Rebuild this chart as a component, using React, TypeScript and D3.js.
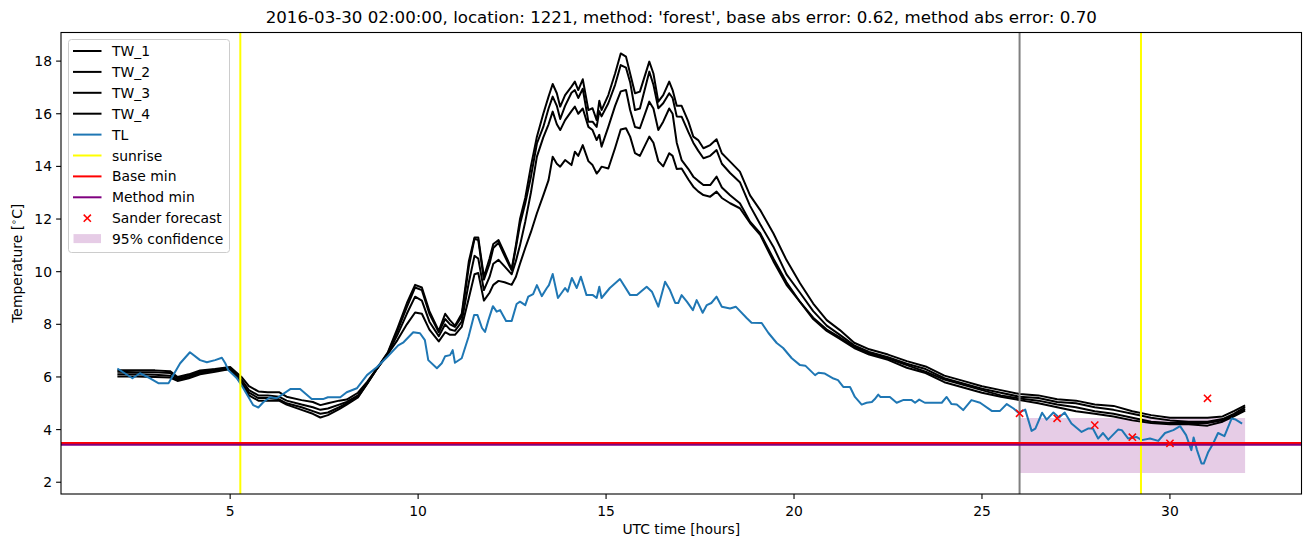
import React from 'react';
import * as d3 from 'd3';

const TW_HOURS = [2.0,2.5,3.0,3.4,3.6,3.9,4.2,4.6,5.0,5.3,5.5,5.75,6.0,6.3,6.5,6.9,7.2,7.4,7.6,7.9,8.1,8.4,8.65,8.9,9.2,9.45,9.7,9.92,10.1,10.3,10.55,10.72,10.85,10.98,11.16,11.35,11.5,11.6,11.75,11.9,12.0,12.14,12.3,12.49,12.6,12.71,12.85,13.0,13.16,13.33,13.47,13.58,13.69,13.78,13.91,14.08,14.17,14.26,14.38,14.53,14.64,14.75,14.82,14.88,15.06,15.24,15.39,15.53,15.64,15.77,15.9,16.15,16.26,16.39,16.52,16.68,16.77,16.88,17.01,17.19,17.32,17.45,17.59,17.77,17.94,18.08,18.3,18.56,18.83,19.1,19.45,19.8,20.16,20.51,20.87,21.22,21.6,22.0,22.5,23.0,23.5,24.0,24.5,25.0,25.5,26.0,26.5,27.0,27.5,28.0,28.5,29.0,29.5,30.0,30.5,31.0,31.4,31.7,32.0];

const TW_1 = [6.25,6.25,6.25,6.22,6.0,6.1,6.25,6.3,6.38,6.0,5.65,5.45,5.42,5.42,5.25,5.12,5.05,4.93,5.0,5.1,5.14,5.4,5.82,6.32,6.95,7.85,8.8,9.5,9.4,8.5,7.75,8.4,8.15,7.95,8.4,10.4,11.3,11.3,9.8,10.5,11.05,11.2,10.7,10.1,11.0,12.0,12.8,14.0,15.13,16.0,16.65,17.13,16.78,16.27,16.71,17.03,17.22,16.9,17.31,16.14,16.21,15.76,16.49,16.14,16.71,17.53,18.29,18.17,17.53,16.78,16.84,17.98,17.53,16.46,16.71,17.22,16.9,16.3,16.3,15.7,15.13,15.0,14.69,14.81,15.03,14.5,14.18,13.8,12.9,12.34,11.46,10.44,9.56,8.79,8.16,7.78,7.3,7.05,6.85,6.6,6.4,6.05,5.85,5.65,5.5,5.35,5.3,5.15,5.1,4.95,4.9,4.7,4.55,4.45,4.45,4.45,4.5,4.7,4.92];

const TW_2 = [6.2,6.18,6.18,6.15,5.95,6.05,6.2,6.28,6.35,5.9,5.5,5.3,5.3,5.25,5.1,4.95,4.85,4.75,4.8,4.95,5.05,5.3,5.78,6.3,6.92,7.75,8.65,9.4,9.3,8.4,7.7,8.2,8.0,7.9,8.3,10.2,11.25,11.2,9.7,10.3,10.9,11.1,10.6,10.05,10.9,11.8,12.6,13.6,14.87,15.5,16.2,16.65,16.3,15.8,16.3,16.8,16.9,16.6,16.95,15.7,15.7,15.5,16.1,15.9,16.4,17.1,17.85,17.75,17.2,16.14,16.2,17.6,17.1,16.21,16.4,16.78,16.6,15.9,15.89,15.3,14.9,14.6,14.31,14.4,14.62,14.1,13.75,13.4,12.5,11.8,10.95,9.9,9.2,8.5,7.95,7.6,7.2,6.95,6.75,6.5,6.3,5.95,5.75,5.55,5.4,5.25,5.2,5.05,5.0,4.85,4.75,4.6,4.45,4.35,4.3,4.3,4.4,4.6,4.85];

const TW_3 = [6.1,6.1,6.08,6.05,5.9,6.0,6.15,6.25,6.3,5.8,5.4,5.2,5.2,5.15,5.0,4.85,4.7,4.6,4.65,4.85,5.0,5.25,5.75,6.3,6.9,7.6,8.4,9.05,8.9,8.1,7.55,8.0,7.8,7.75,8.1,9.6,10.6,10.5,9.3,9.8,10.3,10.45,10.2,9.9,10.4,11.0,11.9,13.0,14.37,15.1,15.6,16.08,15.6,15.38,15.76,16.1,16.27,16.0,16.2,15.5,15.38,15.0,15.2,14.75,15.5,16.3,16.85,16.9,16.14,15.5,15.45,16.46,16.2,15.38,15.7,16.2,16.0,14.9,14.24,13.9,13.61,13.45,13.29,13.29,13.61,13.2,12.9,12.6,11.9,11.46,10.5,9.6,8.85,8.25,7.8,7.5,7.15,6.9,6.7,6.45,6.2,5.9,5.7,5.5,5.3,5.18,5.1,4.95,4.85,4.7,4.6,4.45,4.3,4.25,4.25,4.25,4.35,4.55,4.78];

const TW_4 = [6.02,6.02,6.0,5.98,5.85,5.95,6.1,6.2,6.3,5.75,5.3,5.1,5.1,5.1,4.95,4.75,4.6,4.46,4.55,4.78,4.95,5.22,5.75,6.3,6.88,7.4,8.0,8.45,8.4,7.8,7.35,7.7,7.6,7.6,7.9,9.0,9.9,9.95,8.9,9.2,9.5,9.65,9.6,9.5,9.8,10.3,10.9,11.5,12.22,12.9,13.48,14.37,14.1,13.99,14.24,14.05,14.56,14.4,14.81,14.2,14.05,13.73,13.85,13.99,13.92,14.7,15.4,15.45,15.13,14.5,14.4,15.13,14.9,14.2,14.0,14.5,14.4,13.9,13.92,13.5,13.23,13.05,12.91,12.85,13.04,12.8,12.6,12.41,11.85,11.4,10.4,9.5,8.85,8.2,7.75,7.45,7.1,6.85,6.65,6.35,6.15,5.8,5.6,5.4,5.25,5.12,5.0,4.85,4.7,4.6,4.5,4.35,4.25,4.2,4.2,4.15,4.3,4.5,4.72];

const TL_HOURS = [2.0,2.4,2.6,2.87,3.1,3.36,3.67,3.93,4.2,4.38,4.6,4.78,4.87,4.95,5.18,5.35,5.61,5.75,5.88,6.06,6.24,6.6,6.86,7.17,7.47,7.6,7.93,8.1,8.37,8.64,8.9,9.17,9.47,9.6,9.87,10.05,10.18,10.27,10.5,10.63,10.72,10.85,10.92,10.98,11.16,11.34,11.49,11.58,11.7,11.78,11.87,11.99,12.09,12.18,12.34,12.49,12.62,12.71,12.85,12.93,13.06,13.16,13.29,13.42,13.48,13.58,13.72,13.91,13.98,14.09,14.22,14.33,14.48,14.65,14.75,14.82,14.88,15.1,15.37,15.64,15.82,16.08,16.22,16.39,16.57,16.7,16.84,16.92,17.01,17.15,17.31,17.41,17.57,17.68,17.8,17.94,18.08,18.3,18.45,18.74,18.87,19.14,19.32,19.54,19.71,19.94,20.16,20.3,20.56,20.65,20.82,21.05,21.17,21.31,21.49,21.62,21.8,21.93,22.07,22.15,22.24,22.3,22.55,22.73,22.9,23.13,23.22,23.33,23.48,23.93,24.06,24.19,24.33,24.5,24.72,24.95,25.26,25.48,25.66,25.84,25.97,26.15,26.32,26.42,26.6,26.72,26.9,27.05,27.2,27.38,27.65,27.82,27.95,28.09,28.22,28.36,28.62,28.72,28.89,29.11,29.25,29.47,29.69,29.87,30.09,30.27,30.43,30.57,30.63,30.72,30.84,30.9,31.02,31.15,31.28,31.45,31.64,31.75,31.92];

const TL = [6.32,5.95,6.14,5.95,5.76,5.76,6.52,6.94,6.64,6.56,6.64,6.73,6.52,6.26,5.95,5.57,4.93,4.84,5.04,5.23,5.19,5.54,5.54,5.16,5.16,5.23,5.23,5.42,5.57,6.07,6.37,6.75,7.2,7.3,7.7,7.66,7.4,6.64,6.33,6.52,6.79,6.83,7.02,6.54,6.71,7.52,8.35,8.35,7.86,7.71,8.16,8.69,8.48,8.54,8.13,8.13,8.77,8.86,8.73,9.05,9.15,9.49,9.07,9.37,9.49,9.91,9.0,9.38,9.24,9.76,9.38,9.81,9.11,9.11,9.0,9.43,9.0,9.38,9.72,9.11,9.11,9.43,9.24,8.67,9.62,9.3,8.81,8.81,9.11,8.86,8.54,8.92,8.44,8.73,8.81,9.05,8.67,8.6,8.67,8.24,8.06,8.05,7.67,7.29,7.1,6.71,6.45,6.43,6.07,6.16,6.13,5.94,5.88,5.62,5.62,5.24,4.95,5.02,5.05,5.16,5.33,5.24,5.24,5.02,5.12,5.12,5.02,5.14,5.02,5.02,5.24,4.97,4.95,4.74,5.12,5.02,4.71,4.71,4.97,4.8,4.64,4.76,3.95,4.04,4.64,4.38,4.65,4.46,4.65,4.23,3.91,4.04,4.04,3.66,3.87,3.62,4.0,3.98,3.66,3.72,3.6,3.66,3.57,3.87,3.98,4.13,3.79,3.22,3.7,3.22,2.71,2.71,3.15,3.47,3.87,3.75,4.42,4.38,4.23];

const SUNRISE_HOURS = [5.27, 29.23];
const FORECAST_START = 26;
const BASE_MIN = 3.49;
const METHOD_MIN = 3.42;
const SANDER_HOURS = [26, 27, 28, 29, 30, 31];
const SANDER_VALUES = [4.62, 4.43, 4.17, 3.71, 3.48, 5.19];
const CONF_HOURS = [26, 32];
const CONF_LOW = [2.35, 2.35];
const CONF_HIGH = [4.44, 4.44];
const X_TICKS = [5, 10, 15, 20, 25, 30];
const Y_TICKS = [2, 4, 6, 8, 10, 12, 14, 16, 18];
const TITLE = "2016-03-30 02:00:00, location: 1221, method: 'forest', base abs error: 0.62, method abs error: 0.70";

const FONT = "DejaVu Sans";

function pairs(xs: number[], ys: number[]): [number, number][] {
  const n = Math.min(xs.length, ys.length);
  const out: [number, number][] = [];
  for (let i = 0; i < n; i++) out.push([xs[i], ys[i]]);
  return out;
}

export default function App() {
  const W = 1311, H = 547;
  const L = 61, R = 1301.5, T = 32.5, B = 494;

  const allX = [...TW_HOURS, ...TL_HOURS, ...SANDER_HOURS, ...CONF_HOURS];
  const [x0, x1] = d3.extent(allX) as [number, number];
  const xp = (x1 - x0) * 0.05;
  const x = d3.scaleLinear().domain([x0 - xp, x1 + xp]).range([L, R]);

  const allY = [...TW_1, ...TW_2, ...TW_3, ...TW_4, ...TL, ...SANDER_VALUES, ...CONF_LOW, ...CONF_HIGH, BASE_MIN, METHOD_MIN];
  const [y0, y1] = d3.extent(allY) as [number, number];
  const yp = (y1 - y0) * 0.05;
  const y = d3.scaleLinear().domain([y0 - yp, y1 + yp]).range([B, T]);

  const line = d3.line<[number, number]>().x(d => x(d[0])).y(d => y(d[1]));
  const area = d3.area<[number, number, number]>().x(d => x(d[0])).y0(d => y(d[1])).y1(d => y(d[2]));
  const confData: [number, number, number][] = CONF_HOURS.map((h, i) => [h, CONF_LOW[i], CONF_HIGH[i]]);

  const twSeries = [TW_1, TW_2, TW_3, TW_4];

  const legendItems = [
    { label: 'TW_1', kind: 'line', color: '#000000' },
    { label: 'TW_2', kind: 'line', color: '#000000' },
    { label: 'TW_3', kind: 'line', color: '#000000' },
    { label: 'TW_4', kind: 'line', color: '#000000' },
    { label: 'TL', kind: 'line', color: '#1f77b4' },
    { label: 'sunrise', kind: 'line', color: '#ffff00' },
    { label: 'Base min', kind: 'line', color: '#ff0000' },
    { label: 'Method min', kind: 'line', color: '#800080' },
    { label: 'Sander forecast', kind: 'marker', color: '#ff0000' },
    { label: '95% confidence', kind: 'patch', color: 'rgba(128,0,128,0.2)' },
  ];

  const ms = 3.6;
  const cross = (cx: number, cy: number, key: string) => (
    <g key={key} stroke="#ff0000" strokeWidth={1.5}>
      <line x1={cx - ms} y1={cy - ms} x2={cx + ms} y2={cy + ms} />
      <line x1={cx - ms} y1={cy + ms} x2={cx + ms} y2={cy - ms} />
    </g>
  );

  const lgX = 68.5, lgY = 39.5, lgW = 161, lgH = 213, rowH = 20.9;

  return (
    <svg width={W} height={H} style={{ position: 'absolute', left: 0, top: 0, background: '#fff' }} fontFamily={FONT}>
      <rect x={0} y={0} width={W} height={H} fill="#fff" />
      <defs>
        <clipPath id="plotclip"><rect x={L} y={T} width={R - L} height={B - T} /></clipPath>
      </defs>
      <g clipPath="url(#plotclip)">
        <path d={area(confData) || ''} fill="rgba(128,0,128,0.2)" stroke="none" />
        {twSeries.map((s, i) => (
          <path key={'tw' + i} d={line(pairs(TW_HOURS, s)) || ''} fill="none" stroke="#000" strokeWidth={2} strokeLinejoin="round" />
        ))}
        <path d={line(pairs(TL_HOURS, TL)) || ''} fill="none" stroke="#1f77b4" strokeWidth={2} strokeLinejoin="round" />
        {SUNRISE_HOURS.map((h, i) => (
          <line key={'sr' + i} x1={x(h)} x2={x(h)} y1={T} y2={B} stroke="#ffff00" strokeWidth={2} />
        ))}
        <line x1={x(FORECAST_START)} x2={x(FORECAST_START)} y1={T} y2={B} stroke="#808080" strokeWidth={2} />
        <line x1={L} x2={R} y1={y(BASE_MIN)} y2={y(BASE_MIN)} stroke="#ff0000" strokeWidth={2} />
        <line x1={L} x2={R} y1={y(METHOD_MIN)} y2={y(METHOD_MIN)} stroke="#800080" strokeWidth={2} />
        {SANDER_HOURS.map((h, i) => cross(x(h), y(SANDER_VALUES[i]), 'sd' + i))}
      </g>

      {/* axes frame */}
      <rect x={L} y={T} width={R - L} height={B - T} fill="none" stroke="#000" strokeWidth={1.1} />

      {/* x ticks */}
      {X_TICKS.map(t => (
        <g key={'xt' + t}>
          <line x1={x(t)} x2={x(t)} y1={B} y2={B + 4.9} stroke="#000" strokeWidth={1.1} />
          <text x={x(t)} y={B + 22} textAnchor="middle" fontSize={13.9} fill="#000">{t}</text>
        </g>
      ))}
      {/* y ticks */}
      {Y_TICKS.map(t => (
        <g key={'yt' + t}>
          <line x1={L - 4.9} x2={L} y1={y(t)} y2={y(t)} stroke="#000" strokeWidth={1.1} />
          <text x={L - 9} y={y(t)} dy="0.36em" textAnchor="end" fontSize={13.9} fill="#000">{t}</text>
        </g>
      ))}

      <text x={(L + R) / 2} y={534} textAnchor="middle" fontSize={13.9} fill="#000">UTC time [hours]</text>
      <text transform={`translate(22, ${(T + B) / 2}) rotate(-90)`} textAnchor="middle" fontSize={13.9} fill="#000">
        Temperature [<tspan fontSize={9.7} dy={-5}>∘</tspan><tspan dy={5}>C]</tspan>
      </text>
      <text x={(L + R) / 2} y={23} textAnchor="middle" fontSize={16.67} fill="#000">{TITLE}</text>

      {/* legend */}
      <rect x={lgX} y={lgY} width={lgW} height={lgH} rx={3} ry={3} fill="rgba(255,255,255,0.8)" stroke="#cccccc" strokeWidth={1} />
      {legendItems.map((it, i) => {
        const cy = 51 + i * rowH;
        let handle;
        if (it.kind === 'line') {
          handle = <line x1={73} x2={101.5} y1={cy} y2={cy} stroke={it.color} strokeWidth={2} />;
        } else if (it.kind === 'marker') {
          handle = cross(87.3, cy, 'lgm');
        } else {
          handle = <rect x={73.5} y={cy - 5} width={27.5} height={9} fill={it.color} />;
        }
        return (
          <g key={'lg' + i}>
            {handle}
            <text x={112} y={cy} dy="0.36em" fontSize={13.9} fill="#000">{it.label}</text>
          </g>
        );
      })}
    </svg>
  );
}
